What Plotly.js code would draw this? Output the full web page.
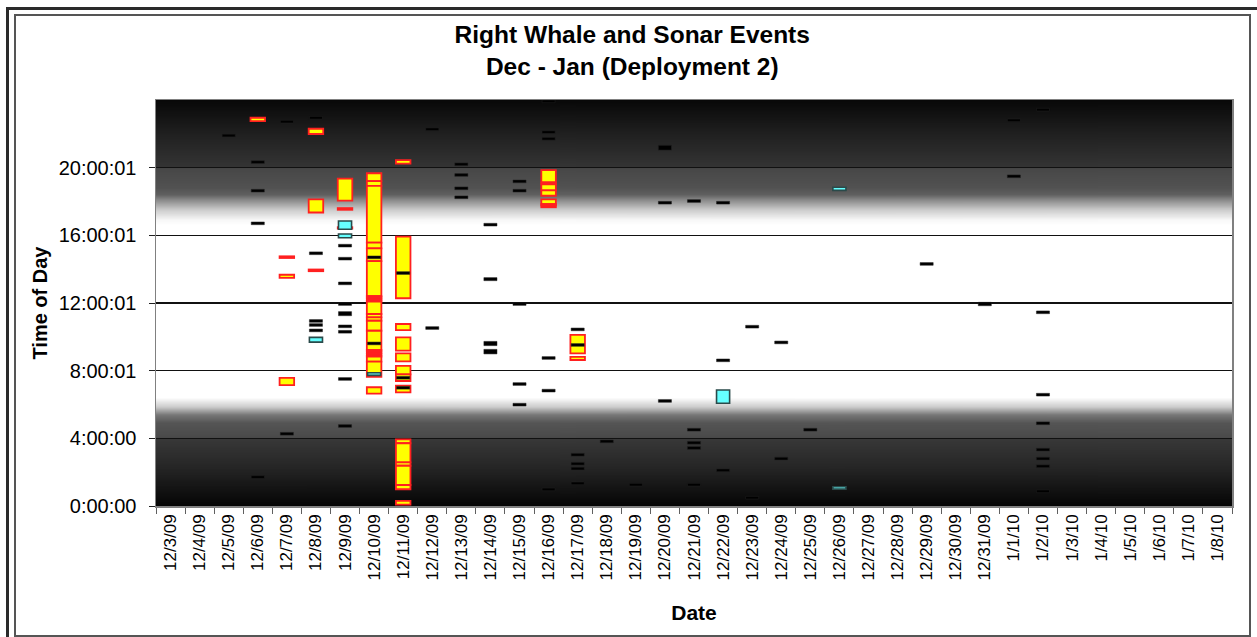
<!DOCTYPE html>
<html>
<head>
<meta charset="utf-8">
<script src="https://cdn.plot.ly/plotly-3.0.1.min.js"></script>
<style>
  html, body { margin: 0; padding: 0; background: #ffffff; }
  body { width: 1257px; height: 637px; position: relative; overflow: hidden; }
  #frameOuter { position: absolute; left: 6px; top: 7px; width: 1251px; height: 630px;
    border-left: 3px solid #2a2a2a; border-top: 3px solid #2a2a2a; box-sizing: border-box; }
  #frameInner { position: absolute; left: 14px; top: 14px; width: 1237px; height: 623px;
    border: 2px solid #555555; box-sizing: border-box; }
  #chart { position: absolute; left: 0; top: 0; width: 1257px; height: 637px; }
</style>
</head>
<body>
<div id="frameOuter"></div>
<div id="frameInner"></div>
<div id="chart"></div>
<script>
// ---------- categories ----------
const dates = ['12/3/09','12/4/09','12/5/09','12/6/09','12/7/09','12/8/09','12/9/09','12/10/09',
  '12/11/09','12/12/09','12/13/09','12/14/09','12/15/09','12/16/09','12/17/09','12/18/09',
  '12/19/09','12/20/09','12/21/09','12/22/09','12/23/09','12/24/09','12/25/09','12/26/09',
  '12/27/09','12/28/09','12/29/09','12/30/09','12/31/09','1/1/10','1/2/10','1/3/10','1/4/10',
  '1/5/10','1/6/10','1/7/10','1/8/10'];

// ---------- y ticks (hours) ----------
const yTickVals = [0, 4, 8, 12, 16, 20];
const yTickText = ['0:00:00', '4:00:00', '8:00:01', '12:00:01', '16:00:01', '20:00:01'];

// ---------- right whale events (hours) ----------
const whaleDate = [
  '12/6/09',
  '12/7/09','12/7/09','12/7/09',
  '12/8/09','12/8/09','12/8/09',
  '12/9/09','12/9/09','12/9/09',
  '12/10/09','12/10/09','12/10/09','12/10/09','12/10/09','12/10/09',
  '12/10/09','12/10/09','12/10/09','12/10/09',
  '12/10/09','12/10/09','12/10/09','12/10/09','12/10/09',
  '12/10/09','12/10/09','12/10/09','12/10/09',
  '12/10/09','12/10/09','12/10/09',
  '12/11/09','12/11/09','12/11/09','12/11/09','12/11/09','12/11/09','12/11/09','12/11/09',
  '12/11/09','12/11/09','12/11/09','12/11/09','12/11/09','12/11/09',
  '12/16/09','12/16/09','12/16/09','12/16/09','12/16/09','12/16/09','12/16/09',
  '12/17/09','12/17/09'
];
const whaleStart = [
  22.75,
  14.66, 13.48, 7.15,
  21.99, 17.35, 13.88,
  18.05, 17.51, 16.40,
  19.21, 18.92, 15.57, 15.23, 14.48, 12.41,
  12.08, 12.17, 12.26, 12.34,
  11.35, 11.15, 10.95, 10.36, 9.22,
  8.83, 8.93, 9.03, 9.13,
  8.53, 7.64, 6.64,
  20.24, 12.28, 10.40, 9.18, 8.55, 7.78, 7.39, 6.72,
  3.71, 2.58, 2.38, 1.24, 0.99, 0.08,
  19.13, 19.02, 18.66, 18.34, 17.85, 17.66, 17.77,
  9.02, 8.63
];
const whaleEnd = [
  22.95,
  14.76, 13.67, 7.57,
  22.30, 18.13, 13.98,
  19.35, 17.61, 16.48,
  19.67, 19.21, 18.92, 15.57, 15.23, 14.48,
  12.15, 12.24, 12.33, 12.41,
  12.08, 11.35, 11.15, 10.95, 10.36,
  8.90, 9.00, 9.10, 9.22,
  8.83, 8.53, 7.02,
  20.45, 15.92, 10.76, 9.97, 9.02, 8.28, 7.78, 7.11,
  3.94, 3.71, 2.58, 2.38, 1.24, 0.30,
  19.86, 19.13, 19.02, 18.66, 18.13, 17.74, 17.85,
  10.11, 8.81
];

// ---------- other (cyan) events ----------
const cyanDate  = ['12/8/09','12/9/09','12/9/09','12/10/09','12/22/09','12/26/09','12/26/09'];
const cyanStart = [9.69, 16.36, 15.86, 7.72, 6.07, 18.66, 1.00];
const cyanEnd   = [9.97, 16.85, 16.08, 7.88, 6.86, 18.84, 1.14];

// ---------- sonar events ----------
const sonarDate = [
  '12/5/09',
  '12/6/09','12/6/09','12/6/09','12/6/09',
  '12/7/09','12/7/09',
  '12/8/09','12/8/09','12/8/09','12/8/09','12/8/09',
  '12/9/09','12/9/09','12/9/09','12/9/09','12/9/09','12/9/09','12/9/09','12/9/09','12/9/09',
  '12/10/09','12/10/09',
  '12/11/09','12/11/09','12/11/09',
  '12/12/09','12/12/09',
  '12/13/09','12/13/09','12/13/09','12/13/09',
  '12/14/09','12/14/09','12/14/09','12/14/09',
  '12/15/09','12/15/09','12/15/09','12/15/09','12/15/09',
  '12/16/09','12/16/09','12/16/09','12/16/09','12/16/09','12/16/09',
  '12/17/09','12/17/09','12/17/09','12/17/09','12/17/09','12/17/09',
  '12/18/09',
  '12/19/09',
  '12/20/09','12/20/09','12/20/09',
  '12/21/09','12/21/09','12/21/09','12/21/09','12/21/09',
  '12/22/09','12/22/09','12/22/09',
  '12/23/09','12/23/09',
  '12/24/09','12/24/09',
  '12/25/09',
  '12/29/09',
  '12/31/09',
  '1/1/10','1/1/10',
  '1/2/10','1/2/10','1/2/10','1/2/10','1/2/10','1/2/10','1/2/10','1/2/10'
];
const sonarStart = [
  21.82,
  20.25, 18.56, 16.63, 1.63,
  22.64, 4.19,
  22.87, 14.86, 10.86, 10.62, 10.30,
  15.31, 14.54, 13.08, 11.86, 11.25, 10.54, 10.22, 7.43, 4.65,
  14.62, 9.53,
  13.69, 7.50, 6.91,
  22.19, 10.44,
  20.12, 19.49, 18.70, 18.17,
  16.55, 13.32, 9.48, 8.99,
  19.11, 18.56, 11.86, 7.13, 5.91,
  23.84, 22.02, 21.63, 8.67, 6.74, 0.90,
  10.36, 9.44, 2.95, 2.42, 2.13, 1.26,
  3.74,
  1.18,
  21.04, 17.85, 6.13,
  17.95, 4.43, 3.66, 3.35, 1.18,
  17.85, 8.53, 2.03,
  10.52, 0.41,
  9.59, 2.72,
  4.43,
  14.23,
  11.84,
  22.72, 19.41,
  23.35, 11.37, 6.50, 4.81, 3.25, 2.72, 2.27, 0.79
];
const sonarEnd = [
  21.98,
  20.41, 18.72, 16.79, 1.79,
  22.80, 4.35,
  23.03, 15.02, 11.02, 10.78, 10.46,
  15.47, 14.70, 13.24, 12.02, 11.49, 10.70, 10.38, 7.59, 4.81,
  14.78, 9.69,
  13.85, 7.66, 7.07,
  22.35, 10.60,
  20.28, 19.65, 18.86, 18.33,
  16.71, 13.50, 9.73, 9.26,
  19.27, 18.72, 12.02, 7.29, 6.07,
  24.00, 22.18, 21.79, 8.83, 6.90, 1.06,
  10.52, 9.60, 3.11, 2.58, 2.29, 1.42,
  3.90,
  1.34,
  21.32, 18.01, 6.29,
  18.11, 4.59, 3.82, 3.51, 1.34,
  18.01, 8.69, 2.19,
  10.68, 0.57,
  9.75, 2.88,
  4.59,
  14.39,
  12.04,
  22.88, 19.57,
  23.51, 11.53, 6.66, 4.97, 3.41, 2.88, 2.43, 0.95
];

// ---------- background day/night shading (style stops: hour, gray) ----------
const bgStops = [
  [24.0, '#080808'], [22.0, '#202020'], [20.05, '#343434'], [19.95, '#474747'],
  [18.8, '#525252'], [18.4, '#606060'], [18.1, '#888888'], [17.5, '#cccccc'],
  [16.9, '#f8f8f8'], [16.6, '#ffffff'], [6.4, '#ffffff'], [5.85, '#cccccc'],
  [5.38, '#777777'], [4.9, '#555555'], [4.05, '#4a4a4a'], [3.95, '#383838'],
  [2.3, '#262626'], [0.0, '#050505']
];

function gradientImage() {
  const c = document.createElement('canvas');
  c.width = 4; c.height = 960;
  const g = c.getContext('2d');
  const lg = g.createLinearGradient(0, 0, 0, c.height);
  bgStops.forEach(s => lg.addColorStop((24 - s[0]) / 24, s[1]));
  g.fillStyle = lg;
  g.fillRect(0, 0, c.width, c.height);
  return c.toDataURL('image/png');
}

function span(s, e) { return e.map((v, i) => +(v - s[i]).toFixed(3)); }

const FONT = 'Liberation Sans, Arial, sans-serif';

const traces = [
  {
    type: 'bar', name: 'Right whale', x: whaleDate, base: whaleStart, y: span(whaleStart, whaleEnd),
    width: 0.5, marker: { color: '#ffff00', line: { color: '#ff2020', width: 1.8 } },
    hoverinfo: 'skip', showlegend: false
  },
  {
    type: 'bar', name: 'Other', x: cyanDate, base: cyanStart, y: span(cyanStart, cyanEnd),
    width: 0.45, marker: { color: '#66ffff', line: { color: '#2a4a4a', width: 1.6 } },
    hoverinfo: 'skip', showlegend: false
  },
  {
    type: 'bar', name: 'Sonar', x: sonarDate, base: sonarStart, y: span(sonarStart, sonarEnd),
    width: 0.45, marker: { color: '#000000', line: { color: '#222222', width: 0.5 } },
    hoverinfo: 'skip', showlegend: false
  }
];

const layout = {
  width: 1257, height: 637,
  margin: { l: 156, r: 25, t: 100, b: 131, pad: 0 },
  paper_bgcolor: 'rgba(0,0,0,0)',
  plot_bgcolor: '#ffffff',
  barmode: 'overlay',
  showlegend: false,
  font: { family: FONT, color: '#000000' },
  title: {
    text: '<b>Right Whale and Sonar Events<br>Dec - Jan (Deployment 2)</b>',
    font: { family: FONT, size: 24.5, color: '#000000' },
    xref: 'container', x: 0.503, xanchor: 'center',
    yref: 'container', y: 0.933, yanchor: 'middle'
  },
  xaxis: {
    type: 'category', categoryorder: 'array', categoryarray: dates,
    range: [-0.5, dates.length - 0.5],
    tickangle: -90, tickson: 'boundaries', ticks: 'outside', ticklen: 6, tickcolor: '#606060',
    tickfont: { family: FONT, size: 17, color: '#000000' },
    showline: true, linecolor: '#808080', linewidth: 1.5, mirror: true,
    showgrid: false, zeroline: false, automargin: false, fixedrange: true,
    title: { text: '<b>Date</b>', font: { family: FONT, size: 21, color: '#000000' }, standoff: 26 }
  },
  yaxis: {
    range: [0, 24], tickmode: 'array', tickvals: yTickVals, ticktext: yTickText,
    ticks: 'outside', ticklen: 6, tickcolor: '#202020', ticklabelstandoff: 8,
    tickfont: { family: FONT, size: 20, color: '#000000' },
    showline: true, linecolor: '#808080', linewidth: 1.5, mirror: true,
    showgrid: true, gridcolor: '#111111', gridwidth: 1.2, zeroline: false,
    automargin: false, fixedrange: true,
    title: { text: '<b>Time of Day</b>', font: { family: FONT, size: 20, color: '#000000' }, standoff: 5 }
  },
  images: [{
    source: gradientImage(), xref: 'paper', yref: 'paper', x: 0, y: 1,
    sizex: 1, sizey: 1, xanchor: 'left', yanchor: 'top', sizing: 'stretch', layer: 'below'
  }]
};

Plotly.newPlot('chart', traces, layout, { displayModeBar: false, staticPlot: true });
</script>
</body>
</html>
